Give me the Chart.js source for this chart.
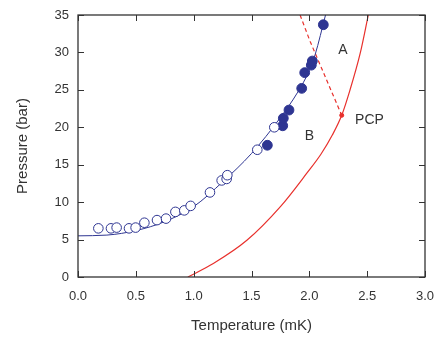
<!DOCTYPE html>
<html><head><meta charset="utf-8">
<script src="https://cdn.jsdelivr.net/npm/chart.js@4.4.1/dist/chart.umd.min.js"></script>
<style>html,body{margin:0;padding:0;background:#fff}#wrap{width:438px;height:339px}</style>
</head><body><div id="wrap"><canvas id="c" width="438" height="339"></canvas></div>
<script>
// Open circles (Temperature mK, Pressure bar)
const openT = [0.176,0.285,0.334,0.441,0.498,0.574,0.683,0.761,0.842,0.919,0.974,1.141,1.242,1.285,1.291,1.55,1.697];
const openP = [6.5,6.5,6.6,6.5,6.6,7.25,7.6,7.8,8.7,8.9,9.5,11.3,12.9,13.1,13.6,17.0,20.0];
// Filled circles
const fillT = [1.637,1.77,1.775,1.824,1.934,1.96,2.017,2.026,2.121];
const fillP = [17.6,20.2,21.2,22.3,25.2,27.3,28.3,28.85,33.7];
// Blue fit curve
const blueT = [0,0.25,0.5,0.75,1.0,1.25,1.5,1.75,1.9,2.0,2.05,2.14];
const blueP = [5.5,5.6,6.2,7.4,9.4,12.7,16.5,21.3,24.7,27.6,29.7,35];
// Red solid curve
const redT = [0.95,1.17,1.46,1.75,1.98,2.1,2.2,2.28,2.35,2.44,2.51];
const redP = [0,1.8,4.9,9.4,13.9,16.4,19.0,21.6,24.9,29.9,35];
// Red dashed line
const dashT = [1.92,2.006,2.28];
const dashP = [35,31.5,21.6];
// PCP point
const pcpT = [2.28], pcpP = [21.6];
// Tick labels / labels
const xTicks = [0,0.5,1.0,1.5,2.0,2.5,3.0];
const yTicks = [0,5,10,15,20,25,30,35];
const labelText = ['A','B','PCP'];
const labelT = [2.29,2.0,2.52];
const labelP = [30.3,18.8,20.9];

const pts = (xs, ys) => xs.map((x,i)=>({x, y: ys[i]}));
const BLUE = '#2e3592', RED = '#e8302c';

const frame = {
  id:'frame',
  afterDraw(chart){
    const {ctx, chartArea:a, scales:{x,y}} = chart;
    ctx.save();
    ctx.strokeStyle = '#333'; ctx.lineWidth = 1.3;
    ctx.strokeRect(a.left, a.top, a.right-a.left, a.bottom-a.top);
    const L = 6;
    ctx.lineWidth = 1;
    ctx.beginPath();
    xTicks.forEach(v=>{ const px = Math.round(x.getPixelForValue(v))+0.5;
      ctx.moveTo(px,a.bottom); ctx.lineTo(px,a.bottom-L);
      ctx.moveTo(px,a.top); ctx.lineTo(px,a.top+L); });
    yTicks.forEach(v=>{ const py = Math.round(y.getPixelForValue(v))+0.5;
      ctx.moveTo(a.left,py); ctx.lineTo(a.left+L,py);
      ctx.moveTo(a.right,py); ctx.lineTo(a.right-L,py); });
    ctx.stroke();
    ctx.fillStyle = '#333';
    ctx.font = '14px "Liberation Sans", Arial, sans-serif';
    ctx.textAlign = 'center'; ctx.textBaseline = 'middle';
    labelText.forEach((t,i)=> ctx.fillText(t, x.getPixelForValue(labelT[i]), y.getPixelForValue(labelP[i])));
    ctx.restore();
  }
};

new Chart(document.getElementById('c'), {
  type:'scatter',
  data:{ datasets:[
    {data:pts(blueT,blueP), showLine:true, borderColor:BLUE, borderWidth:1, pointRadius:0, cubicInterpolationMode:'monotone', order:5},
    {data:pts(redT,redP), showLine:true, borderColor:RED, borderWidth:1.2, pointRadius:0, cubicInterpolationMode:'monotone', order:5},
    {data:pts(dashT,dashP), showLine:true, borderColor:RED, borderWidth:1.2, borderDash:[4,3], pointRadius:0, order:5},
    {data:pts(pcpT,pcpP), pointRadius:2, pointBackgroundColor:RED, pointBorderColor:RED, order:4},
    {data:pts(openT,openP), pointRadius:4.8, pointBackgroundColor:'#fff', pointBorderColor:BLUE, pointBorderWidth:1, order:1},
    {data:pts(fillT,fillP), pointRadius:4.9, pointBackgroundColor:BLUE, pointBorderColor:BLUE, pointBorderWidth:1, order:1}
  ]},
  options:{
    responsive:false, animation:false, devicePixelRatio:1,
    layout:{padding:{top:15,right:13,left:0,bottom:0}},
    plugins:{legend:{display:false}, tooltip:{enabled:false}},
    scales:{
      x:{type:'linear', min:0, max:3,
        afterFit(s){ s.height = 62; s.paddingLeft = 0; s.paddingRight = 0; },
        afterBuildTicks(s){ s.ticks = xTicks.map(v=>({value:v})); },
        grid:{display:false, drawTicks:false}, border:{display:false},
        ticks:{padding:12, color:'#333', font:{family:'"Liberation Sans", Arial', size:13}, callback:v=>v.toFixed(1), maxRotation:0, autoSkip:false},
        title:{display:true, text:'Temperature (mK)', color:'#333', font:{family:'"Liberation Sans", Arial', size:15}, padding:{top:15}}
      },
      y:{type:'linear', min:0, max:35,
        afterFit(s){ s.width = 78; s.paddingTop = 0; s.paddingBottom = 0; },
        afterBuildTicks(s){ s.ticks = yTicks.map(v=>({value:v})); },
        grid:{display:false, drawTicks:false}, border:{display:false},
        ticks:{padding:9, color:'#333', font:{family:'"Liberation Sans", Arial', size:13}, autoSkip:false},
        title:{display:true, text:'Pressure (bar)', color:'#333', font:{family:'"Liberation Sans", Arial', size:15}, padding:{top:14, bottom:8}}
      }
    }
  },
  plugins:[frame]
});
</script></body></html>
